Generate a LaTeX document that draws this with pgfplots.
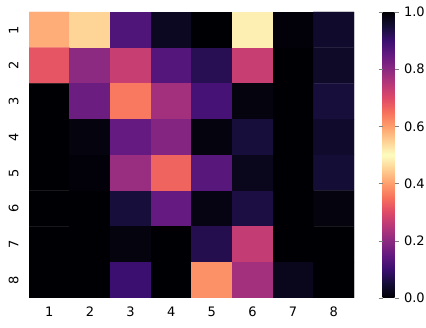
\documentclass[border=0pt]{standalone}
\usepackage{pgfplots}
\pgfplotsset{compat=1.18}
\usepackage{fontspec}
\setmainfont{DejaVu Sans}
\begin{document}
\begin{tikzpicture}
\path[use as bounding box] (-29pt,-30pt) rectangle (397pt,298pt);
\begin{axis}[
  scale only axis, width=325pt, height=286pt,
  xmin=0.5, xmax=8.5, ymin=0.5, ymax=8.5, y dir=reverse,
  xtick={1,...,8}, ytick={1,...,8},
  major tick length=0pt,
  axis line style={draw=none},
  tick label style={font=\fontsize{13}{15}\selectfont},
  /pgf/number format/assume math mode=true,
  xticklabel shift=5pt,
  yticklabel style={rotate=90, anchor=south},
  yticklabel shift=7pt,
  colormap={magmasym}{
    rgb255(0)=(0,0,4) rgb255(1)=(20,14,54) rgb255(2)=(59,15,112)
    rgb255(3)=(100,26,128) rgb255(4)=(140,41,129) rgb255(5)=(183,55,121)
    rgb255(6)=(222,73,104) rgb255(7)=(247,112,92) rgb255(8)=(254,159,109)
    rgb255(9)=(254,207,146) rgb255(10)=(252,253,191)
    rgb255(11)=(254,207,146) rgb255(12)=(254,159,109) rgb255(13)=(247,112,92)
    rgb255(14)=(222,73,104) rgb255(15)=(183,55,121) rgb255(16)=(140,41,129)
    rgb255(17)=(100,26,128) rgb255(18)=(59,15,112) rgb255(19)=(20,14,54)
    rgb255(20)=(0,0,4)},
  point meta min=0, point meta max=1,
  colorbar,
  colorbar style={
    scale only axis, width=12pt, height=286pt,
    at={(parent axis.north east)}, anchor=north west, xshift=20pt,
    ytick={0,0.2,...,1},
    yticklabel style={/pgf/number format/fixed, /pgf/number format/fixed zerofill,
      /pgf/number format/precision=1, font=\fontsize{13}{15}\selectfont},
    /pgf/number format/assume math mode=true,
    axis line style={draw=none},
    tick align=outside, major tick length=4pt,
    yticklabel shift=2pt,
  },
]
\addplot[matrix plot*, mesh/cols=8, point meta=explicit] table[meta=c] {
x y c
1 1 0.415
2 1 0.455
3 1 0.125
4 1 0.03
5 1 0.0
6 1 0.485
7 1 0.005
8 1 0.04
1 2 0.315
2 2 0.2
3 2 0.27
4 2 0.13
5 2 0.075
6 2 0.27
7 2 0.0
8 2 0.035
1 3 0.0
2 3 0.16
3 3 0.36
4 3 0.225
5 3 0.115
6 3 0.01
7 3 0.0
8 3 0.055
1 4 0.0
2 4 0.01
3 4 0.15
4 4 0.19
5 4 0.01
6 4 0.055
7 4 0.0
8 4 0.04
1 5 0.0
2 5 0.005
3 5 0.215
4 5 0.335
5 5 0.135
6 5 0.025
7 5 0.0
8 5 0.05
1 6 0.0
2 6 0.0
3 6 0.055
4 6 0.15
5 6 0.015
6 6 0.06
7 6 0.0
8 6 0.01
1 7 0.0
2 7 0.0
3 7 0.01
4 7 0.0
5 7 0.07
6 7 0.265
7 7 0.0
8 7 0.0
1 8 0.0
2 8 0.0
3 8 0.1
4 8 0.0
5 8 0.385
6 8 0.225
7 8 0.025
8 8 0.0
};
\end{axis}
\end{tikzpicture}
\end{document}
